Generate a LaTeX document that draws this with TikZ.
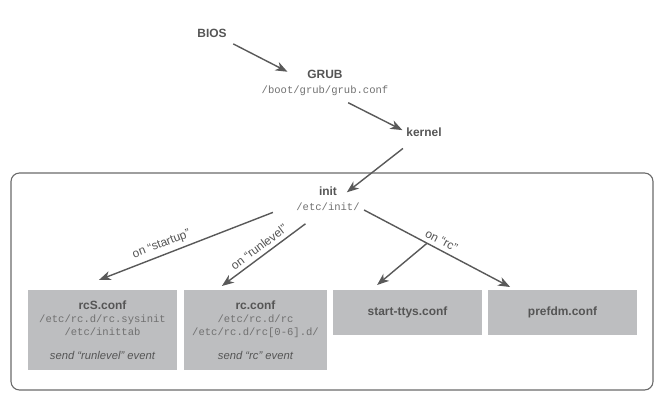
\documentclass[tikz,border=0pt]{standalone}
\usepackage{fontspec}
\setmainfont{Liberation Sans}
\setmonofont{Liberation Mono}
\usetikzlibrary{arrows.meta}
\definecolor{inkgray}{HTML}{555555}
\definecolor{pathgray}{HTML}{707070}
\definecolor{wiregray}{HTML}{595959}
\definecolor{boxgray}{HTML}{BDBEC0}
\definecolor{framegray}{HTML}{6A6A6A}
\newcommand{\cfgname}[1]{{\bfseries\fontsize{8.5}{9.2}\selectfont #1}}
\newcommand{\cfgpath}[1]{{\ttfamily\fontsize{7.5}{9.2}\selectfont\color{pathgray}#1}}
\newcommand{\cfgevent}[1]{{\itshape #1}}

\begin{document}
\begin{tikzpicture}[x=0.025cm, y=-0.025cm,
  stage/.style={inner sep=0pt, text=inkgray, font=\bfseries\fontsize{8.5}{10}\selectfont},
  pathtxt/.style={inner sep=0pt, text=pathgray, font=\ttfamily\fontsize{7.5}{9}\selectfont},
  confbox/.style={fill=boxgray, text=inkgray, align=center, anchor=north, inner sep=0pt,
    minimum width=3.725cm, font=\fontsize{8}{9.2}\selectfont},
  wire/.style={draw=wiregray, line width=1pt, -{Stealth[length=8.5pt, width=6.5pt, inset=2.5pt]}},
  evt/.style={sloped, above=3pt, inner sep=0pt, text=inkgray, font=\fontsize{8.5}{10}\selectfont}]
\useasboundingbox (0,0) rectangle (662,400);

% frame round the init stage
\draw[framegray, line width=0.8pt, rounded corners=6pt] (11,173) rectangle (653,390);

\node[stage] (bios) at (212,33) {BIOS};
\node[stage] (grub) at (325,74) {GRUB};
\node[pathtxt] (grubpath) at (325,91) {/boot/grub/grub.conf};
\node[stage] (kernel) at (424,132) {kernel};
\node[stage] (init) at (328,191) {init};
\node[pathtxt] (initpath) at (328,207) {/etc/init/};

\node[confbox, minimum height=2cm] (rcs) at (102.5,290) {\cfgname{rcS.conf}\\ \cfgpath{/etc/rc.d/rc.sysinit}\\ \cfgpath{/etc/inittab}\\[8.5pt] \cfgevent{send “runlevel” event}};
\node[confbox, minimum height=2cm, minimum width=3.575cm] (rc) at (255.5,290) {\cfgname{rc.conf}\\ \cfgpath{/etc/rc.d/rc}\\ \cfgpath{/etc/rc.d/rc[0-6].d/}\\[8.5pt] \cfgevent{send “rc” event}};
\node[confbox, minimum height=1.125cm] (ttys) at (407.5,290) {\cfgname{start-ttys.conf}};
\node[confbox, minimum height=1.125cm] (prefdm) at (562.5,290) {\cfgname{prefdm.conf}};

\draw[wire, shorten <=17pt, shorten >=30pt] (bios.center) -- (grubpath.center);
\draw[wire, shorten <=18.5pt, shorten >=3pt] (grubpath.center) -- (kernel.west);
\draw[wire, shorten <=19pt, shorten >=17pt] (kernel.center) -- (initpath.center);

% init events
\draw[wire, shorten <=42pt] (init.center) -- ([xshift=-0.09cm,yshift=0.25cm]rcs.north) node[evt, pos=0.71]{on “startup”};
\draw[wire, shorten <=20pt] (initpath.center) -- ([xshift=-0.84cm,yshift=0.1cm]rc.north) node[evt, pos=0.6]{on “runlevel”};
\draw[wire, shorten <=29pt] (init.center) -- ([xshift=-1.31cm,yshift=0.075cm]prefdm.north) node[evt, pos=0.6]{on “rc”} coordinate[pos=0.544] (rcfork);
\draw[wire] (rcfork) -- ([xshift=-0.76cm,yshift=0.125cm]ttys.north);

\end{tikzpicture}
\end{document}
